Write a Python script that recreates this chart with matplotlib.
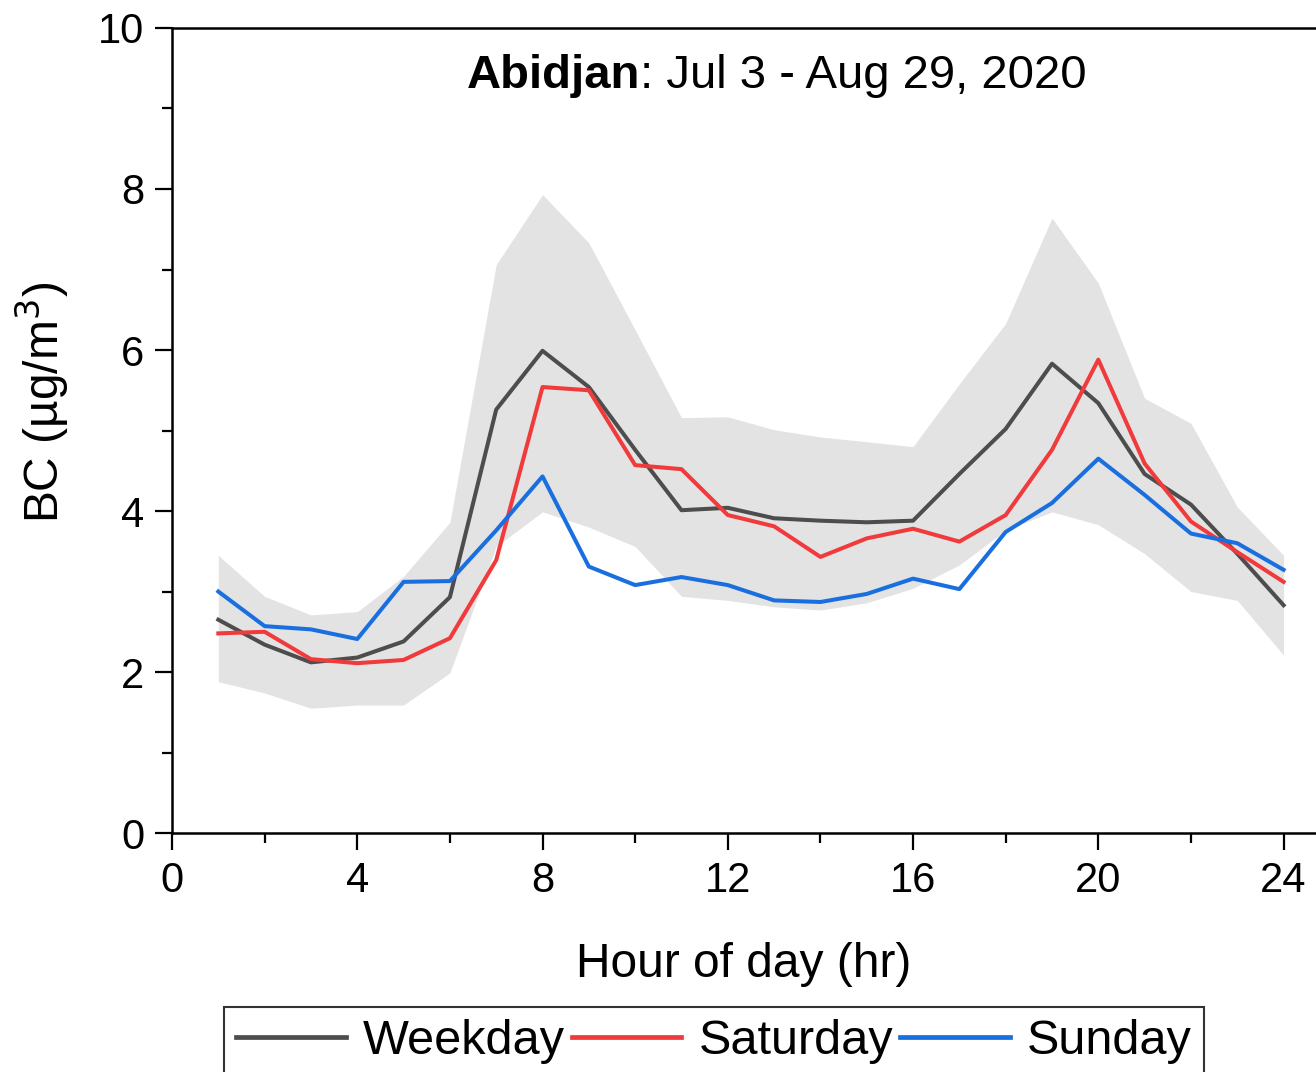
import matplotlib.pyplot as plt
import numpy as np

plt.rcParams['font.family'] = ['Liberation Sans', 'DejaVu Sans']

hours = np.arange(1, 25)

weekday = [2.65, 2.34, 2.12, 2.18, 2.38, 2.93, 5.26, 5.99, 5.54, 4.76, 4.01, 4.04,
           3.91, 3.88, 3.86, 3.88, 4.46, 5.02, 5.83, 5.34, 4.46, 4.08, 3.47, 2.83]
saturday = [2.48, 2.50, 2.16, 2.11, 2.15, 2.42, 3.39, 5.54, 5.50, 4.57, 4.52, 3.95,
            3.81, 3.43, 3.66, 3.78, 3.62, 3.95, 4.76, 5.88, 4.59, 3.87, 3.49, 3.12]
sunday = [3.00, 2.57, 2.53, 2.41, 3.12, 3.13, 3.76, 4.43, 3.31, 3.08, 3.18, 3.08,
          2.89, 2.87, 2.97, 3.16, 3.03, 3.74, 4.10, 4.65, 4.20, 3.72, 3.60, 3.27]

# grey band (range across days)
band_upper = [3.45, 2.94, 2.71, 2.75, 3.19, 3.86, 7.06, 7.93, 7.33, 6.25, 5.16, 5.17,
              5.01, 4.92, 4.86, 4.80, 5.58, 6.33, 7.64, 6.83, 5.40, 5.09, 4.05, 3.45]
band_lower = [1.88, 1.74, 1.55, 1.59, 1.59, 1.99, 3.56, 3.99, 3.80, 3.56, 2.94, 2.89,
              2.81, 2.77, 2.86, 3.04, 3.33, 3.76, 3.99, 3.83, 3.47, 3.00, 2.89, 2.21]

fig = plt.figure(figsize=(13.16, 10.72), dpi=100)
ax = fig.add_axes([0.1307, 0.2229, 0.8693, 0.751])

ax.fill_between(hours, band_lower, band_upper, color='#e3e3e3', linewidth=0)
ax.plot(hours, weekday, color='#4d4d4d', lw=2.9, label='Weekday')
ax.plot(hours, saturday, color='#f03a3c', lw=2.9, label='Saturday')
ax.plot(hours, sunday, color='#1a6fe0', lw=2.9, label='Sunday')

ax.set_xlim(0, 24.7)
ax.set_ylim(0, 10)
ax.set_xticks([0, 4, 8, 12, 16, 20, 24])
ax.set_xticks(np.arange(2, 24, 4), minor=True)
ax.set_yticks([0, 2, 4, 6, 8, 10])
ax.set_yticks([1, 3, 5, 7, 9], minor=True)
ax.tick_params(which='major', length=12, width=1.6, labelsize=30, pad=8)
ax.tick_params(which='minor', length=7, width=1.6)
for s in ['left', 'bottom', 'top']:
    ax.spines[s].set_linewidth(1.8)
ax.spines['right'].set_visible(False)

ax.set_xlabel('Hour of day (hr)', fontsize=34.5)
ax.xaxis.set_label_coords(0.50, -0.135)
ax.set_ylabel('BC (µg/m$^3$)', fontsize=34.5)
ax.yaxis.set_label_coords(-0.088, 0.535)

ax.text(0.409, 0.925, 'Abidjan', transform=ax.transAxes, fontsize=34,
        fontweight='bold', ha='right', va='baseline')
ax.text(0.409, 0.925, ': Jul 3 - Aug 29, 2020', transform=ax.transAxes,
        fontsize=34, ha='left', va='baseline')

leg = fig.legend(loc='upper center', bbox_to_anchor=(0.5426, 0.0606), ncol=3,
                 fontsize=35, frameon=True, fancybox=False, edgecolor='black',
                 handlelength=2.25, handletextpad=0.35, columnspacing=0.15,
                 borderpad=0.25, borderaxespad=0)
leg.get_frame().set_linewidth(1.5)
for line in leg.get_lines():
    line.set_linewidth(3.4)

fig.savefig('out.png', dpi=100)
